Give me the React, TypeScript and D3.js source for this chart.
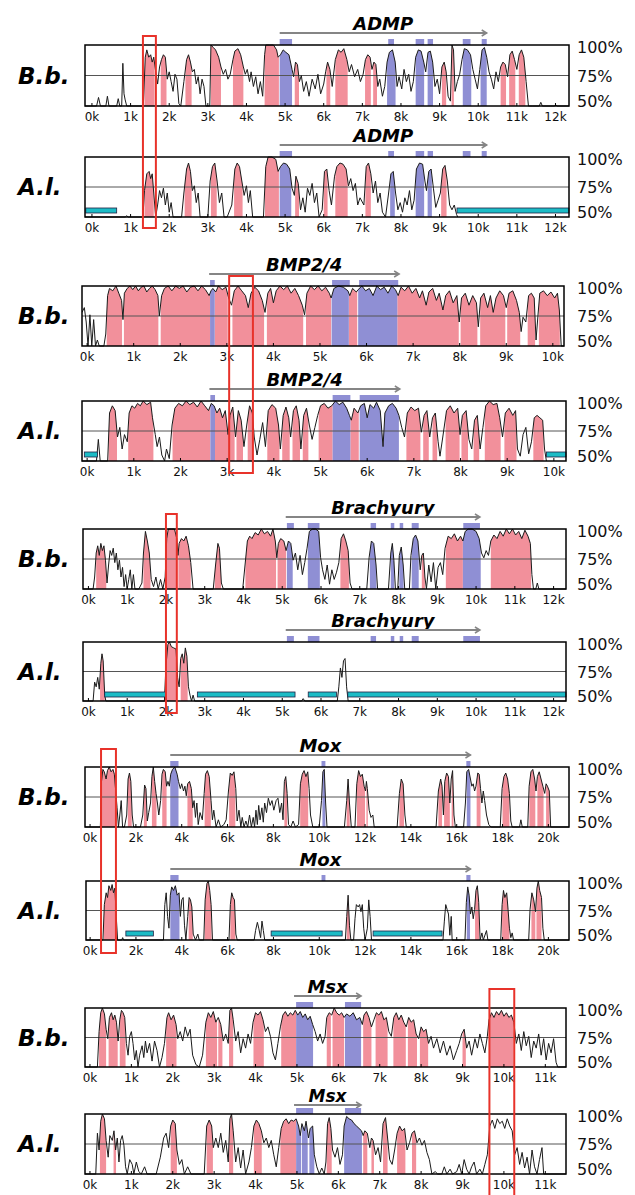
import React from 'react';
import * as d3 from 'd3';

type Pt = [number, number];
type Span = [number, number];

// ---------- ADMP ----------
const admpBbCurve: Pt[] = [[-0.18,45],[0.12,45],[0.17,57],[0.22,45],[0.36,45],[0.4,58],[0.44,45],[0.64,45],[0.68,56],[0.72,45],[0.77,48],[0.8,85],[0.83,60],[0.86,55],[0.9,45],[1.33,45],[1.38,90],[1.42,96],[1.47,90],[1.52,92],[1.56,86],[1.6,90],[1.65,78],[1.7,68],[1.75,82],[1.8,88],[1.85,92],[1.9,90],[1.95,72],[2.0,78],[2.05,70],[2.1,62],[2.15,76],[2.2,72],[2.25,52],[2.3,48],[2.38,70],[2.45,88],[2.5,92],[2.55,86],[2.6,78],[2.65,80],[2.7,68],[2.75,74],[2.8,60],[2.85,72],[2.9,66],[2.95,50],[3.05,48],[3.08,100],[3.14,98],[3.2,96],[3.28,90],[3.34,82],[3.4,76],[3.46,80],[3.52,72],[3.58,76],[3.65,88],[3.7,95],[3.78,97],[3.85,92],[3.92,82],[3.97,76],[4.02,80],[4.08,70],[4.12,78],[4.18,66],[4.24,74],[4.3,60],[4.36,70],[4.42,58],[4.47,92],[4.5,100],[4.6,100],[4.7,100],[4.78,96],[4.82,90],[4.88,92],[4.95,96],[5.02,94],[5.1,92],[5.18,80],[5.22,74],[5.27,86],[5.32,84],[5.37,70],[5.42,75],[5.48,62],[5.55,70],[5.62,58],[5.7,72],[5.78,64],[5.85,76],[5.92,60],[6.0,68],[6.05,78],[6.1,86],[6.16,80],[6.22,66],[6.3,88],[6.38,96],[6.45,94],[6.52,97],[6.6,88],[6.66,78],[6.72,84],[6.8,74],[6.88,80],[6.95,70],[7.02,76],[7.08,88],[7.14,92],[7.2,90],[7.25,80],[7.3,86],[7.35,84],[7.4,66],[7.45,72],[7.52,58],[7.58,66],[7.64,86],[7.7,94],[7.78,96],[7.85,86],[7.9,66],[7.95,74],[8.02,64],[8.08,80],[8.14,70],[8.2,76],[8.26,62],[8.32,70],[8.38,90],[8.45,96],[8.52,95],[8.59,86],[8.64,78],[8.7,94],[8.76,95],[8.82,86],[8.88,66],[8.94,72],[9.0,60],[9.06,82],[9.12,86],[9.17,78],[9.22,58],[9.28,54],[9.32,100],[9.36,96],[9.4,62],[9.46,70],[9.52,76],[9.58,88],[9.64,97],[9.72,96],[9.8,92],[9.86,80],[9.92,72],[9.98,64],[10.04,80],[10.1,96],[10.16,98],[10.22,90],[10.28,78],[10.34,72],[10.4,64],[10.46,78],[10.52,70],[10.58,82],[10.64,86],[10.7,84],[10.76,74],[10.82,92],[10.88,95],[10.94,88],[11.0,80],[11.06,92],[11.12,96],[11.18,90],[11.24,70],[11.3,48],[11.4,45],[11.58,45],[11.62,53],[11.66,45],[11.98,45],[12.0,51],[12.04,45],[12.35,45]];
const admpBbCns: Span[] = [[1.36,1.62],[1.78,1.93],[2.42,2.58],[3.08,3.34],[3.65,3.92],[4.47,4.84],[5.25,5.36],[6.07,6.17],[6.3,6.62],[7.07,7.22],[7.28,7.38],[9.06,9.17],[9.31,9.37],[10.58,10.72],[10.8,10.96],[11.05,11.22]];
const admpBbExonFill: Span[] = [[4.86,5.18],[7.64,7.86],[8.38,8.6],[8.69,8.83],[9.6,9.82],[10.06,10.22]];

const admpAlCurve: Pt[] = [[-0.18,45],[0.86,45],[0.9,51],[0.94,45],[1.32,45],[1.36,72],[1.42,86],[1.48,88],[1.52,82],[1.56,86],[1.6,70],[1.65,48],[1.7,60],[1.75,72],[1.8,66],[1.85,74],[1.9,60],[1.95,70],[2.0,54],[2.05,62],[2.1,48],[2.2,46],[2.32,48],[2.38,70],[2.45,90],[2.5,95],[2.55,88],[2.6,72],[2.65,76],[2.7,62],[2.75,70],[2.8,50],[2.9,48],[3.0,48],[3.06,80],[3.12,92],[3.18,95],[3.24,80],[3.3,62],[3.36,70],[3.42,50],[3.5,48],[3.62,60],[3.7,90],[3.76,95],[3.82,92],[3.88,80],[3.94,68],[4.0,76],[4.05,62],[4.1,72],[4.16,50],[4.3,46],[4.44,48],[4.5,92],[4.56,100],[4.66,100],[4.76,98],[4.82,88],[4.88,92],[4.96,95],[5.04,94],[5.12,90],[5.18,74],[5.24,68],[5.28,84],[5.34,78],[5.4,56],[5.46,66],[5.52,54],[5.58,74],[5.64,68],[5.7,78],[5.76,62],[5.82,70],[5.88,48],[5.96,56],[6.02,88],[6.08,90],[6.14,72],[6.2,60],[6.28,84],[6.34,92],[6.42,95],[6.5,94],[6.58,90],[6.64,76],[6.7,82],[6.76,72],[6.82,78],[6.88,60],[6.94,66],[7.04,60],[7.1,92],[7.16,95],[7.22,86],[7.28,70],[7.34,80],[7.4,62],[7.46,70],[7.52,54],[7.6,50],[7.68,70],[7.74,86],[7.8,88],[7.86,70],[7.92,56],[7.98,62],[8.04,54],[8.1,66],[8.16,60],[8.22,72],[8.28,56],[8.34,64],[8.4,90],[8.48,95],[8.56,94],[8.62,80],[8.66,72],[8.72,88],[8.78,90],[8.84,74],[8.9,58],[8.96,64],[9.02,70],[9.08,90],[9.14,93],[9.2,80],[9.26,60],[9.32,56],[9.38,60],[9.44,52],[9.47,45]];
const admpAlCns: Span[] = [[1.36,1.6],[2.4,2.58],[3.08,3.23],[3.68,3.9],[4.48,4.84],[5.26,5.36],[6.0,6.1],[6.3,6.62],[7.08,7.22],[9.04,9.18]];
const admpAlExonFill: Span[] = [[4.86,5.16],[7.72,7.84],[8.38,8.6],[8.69,8.8]];
const admpAlGaps: Span[] = [[-0.16,0.64],[9.45,12.35]];
const admpExonMarks: Span[] = [[4.86,5.18],[7.67,7.82],[8.38,8.6],[8.69,8.83],[9.6,9.8],[10.09,10.22]];
const admpArrow: Span = [4.86, 10.22];

// ---------- BMP2/4 ----------
const bmpBbCurve: Pt[] = [[-0.11,78],[-0.06,82],[-0.02,70],[0.02,50],[0.06,76],[0.1,45],[0.14,72],[0.18,45],[0.22,55],[0.26,45],[0.32,48],[0.36,45],[0.4,60],[0.44,92],[0.48,98],[0.55,96],[0.62,100],[0.68,94],[0.74,88],[0.77,72],[0.8,94],[0.86,98],[0.92,100],[0.98,97],[1.04,100],[1.1,96],[1.16,99],[1.22,100],[1.28,95],[1.34,98],[1.4,100],[1.46,97],[1.52,92],[1.55,75],[1.6,92],[1.66,98],[1.74,100],[1.82,96],[1.9,100],[1.98,98],[2.06,100],[2.14,95],[2.22,99],[2.3,100],[2.38,96],[2.46,100],[2.54,97],[2.62,92],[2.66,96],[2.7,98],[2.76,95],[2.82,100],[2.9,97],[2.98,99],[3.04,90],[3.1,84],[3.16,96],[3.24,100],[3.32,96],[3.4,92],[3.46,82],[3.52,94],[3.6,99],[3.68,96],[3.76,88],[3.82,78],[3.88,94],[3.94,98],[4.0,86],[4.06,96],[4.14,100],[4.22,97],[4.3,100],[4.38,94],[4.46,98],[4.54,92],[4.62,84],[4.67,76],[4.72,94],[4.8,100],[4.88,97],[4.96,100],[5.04,96],[5.12,99],[5.2,94],[5.24,90],[5.3,98],[5.4,100],[5.5,99],[5.6,96],[5.64,92],[5.7,98],[5.78,95],[5.82,97],[5.9,100],[5.98,96],[6.06,98],[6.14,92],[6.22,100],[6.3,97],[6.38,99],[6.46,94],[6.54,100],[6.62,97],[6.68,92],[6.74,99],[6.82,96],[6.9,100],[6.98,94],[7.06,98],[7.14,90],[7.2,96],[7.28,84],[7.34,95],[7.42,98],[7.5,88],[7.56,94],[7.64,80],[7.7,92],[7.78,96],[7.86,86],[7.94,92],[7.99,70],[8.04,90],[8.12,94],[8.2,84],[8.28,92],[8.36,86],[8.4,66],[8.45,90],[8.52,94],[8.6,82],[8.66,92],[8.72,78],[8.78,90],[8.86,96],[8.94,92],[9.0,82],[9.06,94],[9.14,96],[9.22,88],[9.28,78],[9.32,62],[9.36,74],[9.42,70],[9.48,92],[9.54,94],[9.6,90],[9.64,55],[9.68,75],[9.72,94],[9.8,96],[9.88,92],[9.96,95],[10.04,90],[10.1,94],[10.14,80],[10.18,50],[10.24,48]];
const bmpBbCns: Span[] = [[0.42,0.75],[0.79,1.53],[1.58,2.64],[2.74,3.02],[3.12,3.8],[3.86,4.64],[4.7,5.24],[5.62,5.8],[6.66,7.98],[8.02,8.38],[8.44,8.98],[9.02,9.3],[9.46,9.62],[9.7,10.15]];
const bmpBbExonFill: Span[] = [[2.64,2.74],[5.25,5.62],[5.82,6.66]];

const bmpAlCurve: Pt[] = [[-0.11,45],[0.2,45],[0.24,68],[0.28,50],[0.32,45],[0.44,48],[0.48,90],[0.54,96],[0.6,92],[0.65,70],[0.7,78],[0.75,60],[0.8,72],[0.86,66],[0.9,90],[0.96,96],[1.02,94],[1.08,98],[1.14,96],[1.2,100],[1.28,97],[1.36,99],[1.4,86],[1.46,72],[1.5,62],[1.55,70],[1.6,55],[1.66,48],[1.7,60],[1.76,52],[1.82,80],[1.88,94],[1.96,98],[2.04,96],[2.12,100],[2.2,97],[2.28,99],[2.36,95],[2.44,100],[2.52,96],[2.6,92],[2.66,98],[2.72,96],[2.78,90],[2.84,94],[2.9,86],[2.96,92],[3.02,72],[3.06,88],[3.12,95],[3.18,70],[3.24,92],[3.3,84],[3.36,62],[3.42,80],[3.48,96],[3.54,90],[3.58,70],[3.64,55],[3.7,68],[3.76,82],[3.82,62],[3.88,92],[3.96,97],[4.04,94],[4.1,80],[4.14,60],[4.2,88],[4.26,95],[4.32,86],[4.36,70],[4.42,92],[4.48,96],[4.54,84],[4.58,60],[4.64,88],[4.7,94],[4.76,80],[4.82,68],[4.88,78],[4.94,88],[5.0,96],[5.08,98],[5.16,94],[5.24,96],[5.32,100],[5.4,97],[5.48,99],[5.56,94],[5.62,88],[5.66,84],[5.72,94],[5.8,90],[5.86,96],[5.94,98],[6.0,86],[6.06,97],[6.14,94],[6.2,99],[6.28,92],[6.34,62],[6.38,90],[6.46,96],[6.54,98],[6.62,94],[6.68,88],[6.74,78],[6.8,70],[6.86,90],[6.94,95],[7.02,92],[7.1,94],[7.16,74],[7.22,88],[7.28,92],[7.34,70],[7.4,86],[7.46,90],[7.52,66],[7.56,54],[7.62,70],[7.7,92],[7.78,96],[7.86,90],[7.94,94],[7.99,72],[8.04,88],[8.12,92],[8.18,68],[8.24,60],[8.3,84],[8.36,88],[8.42,60],[8.48,78],[8.54,96],[8.62,100],[8.7,97],[8.78,98],[8.84,86],[8.9,70],[8.96,90],[9.04,94],[9.12,88],[9.18,92],[9.22,60],[9.28,54],[9.34,72],[9.4,78],[9.46,56],[9.52,66],[9.58,86],[9.64,88],[9.7,86],[9.76,84],[9.8,60],[9.84,45]];
const bmpAlCns: Span[] = [[0.46,0.64],[0.88,1.42],[1.83,2.64],[2.74,3.04],[3.06,3.16],[3.2,3.34],[3.44,3.56],[3.86,4.12],[4.18,4.34],[4.4,4.56],[4.62,4.74],[4.96,5.26],[5.64,5.82],[6.84,7.14],[7.2,7.32],[7.4,7.5],[7.68,7.98],[8.02,8.16],[8.28,8.4],[8.52,8.86],[8.94,9.2],[9.56,9.78]];
const bmpAlExonFill: Span[] = [[2.64,2.74],[5.26,5.64],[5.84,6.68]];
const bmpAlGaps: Span[] = [[-0.06,0.22],[9.84,10.26]];
const bmpExonMarks: Span[] = [[2.64,2.74],[5.26,5.64],[5.84,6.68]];
const bmpArrow: Span = [2.62, 6.7];

// ---------- Brachyury ----------
const brachyBbCurve: Pt[] = [[-0.14,45],[0.12,45],[0.16,60],[0.2,80],[0.24,86],[0.28,78],[0.32,88],[0.36,82],[0.4,86],[0.44,74],[0.48,55],[0.52,70],[0.56,82],[0.6,78],[0.64,84],[0.68,72],[0.72,80],[0.76,66],[0.8,74],[0.84,60],[0.88,68],[0.92,52],[0.96,62],[1.0,48],[1.04,58],[1.08,66],[1.12,50],[1.16,62],[1.2,46],[1.3,45],[1.38,55],[1.42,80],[1.47,98],[1.52,90],[1.57,80],[1.62,58],[1.68,52],[1.74,60],[1.8,50],[1.86,58],[1.92,48],[1.98,60],[2.02,92],[2.06,100],[2.14,100],[2.22,100],[2.28,92],[2.31,78],[2.34,88],[2.4,92],[2.46,90],[2.52,94],[2.58,86],[2.64,72],[2.7,50],[2.78,45],[3.22,45],[3.28,70],[3.34,88],[3.38,84],[3.43,55],[3.48,45],[3.98,45],[4.04,70],[4.1,90],[4.16,94],[4.22,92],[4.3,97],[4.38,95],[4.46,100],[4.54,96],[4.62,98],[4.7,94],[4.76,100],[4.82,90],[4.86,76],[4.9,88],[4.96,92],[5.04,90],[5.1,82],[5.16,90],[5.22,88],[5.28,74],[5.34,80],[5.4,66],[5.46,78],[5.52,62],[5.58,72],[5.64,84],[5.7,98],[5.78,100],[5.86,100],[5.94,98],[5.99,76],[6.04,66],[6.1,58],[6.16,70],[6.22,54],[6.28,66],[6.34,58],[6.4,64],[6.46,72],[6.52,92],[6.58,96],[6.64,90],[6.7,82],[6.75,55],[6.8,45],[7.18,45],[7.24,76],[7.3,90],[7.36,88],[7.42,70],[7.46,45],[7.74,45],[7.8,80],[7.84,88],[7.88,74],[7.92,45],[7.98,50],[8.02,78],[8.07,85],[8.12,70],[8.16,48],[8.28,50],[8.32,78],[8.38,92],[8.44,95],[8.5,90],[8.56,66],[8.6,78],[8.64,80],[8.68,60],[8.72,50],[8.78,70],[8.84,56],[8.9,72],[8.96,50],[9.02,68],[9.08,72],[9.14,62],[9.2,84],[9.28,94],[9.36,92],[9.44,96],[9.52,90],[9.6,94],[9.66,90],[9.72,98],[9.8,100],[9.9,100],[10.0,98],[10.08,92],[10.14,80],[10.2,76],[10.26,82],[10.32,78],[10.38,90],[10.46,95],[10.54,92],[10.62,98],[10.7,94],[10.78,100],[10.86,96],[10.94,100],[11.02,95],[11.1,98],[11.18,92],[11.26,99],[11.34,94],[11.4,88],[11.44,62],[11.48,48],[11.54,45],[11.58,55],[11.62,45],[12.32,45]];
const brachyBbCns: Span[] = [[0.2,0.46],[1.42,1.6],[2.0,2.29],[2.32,2.64],[3.26,3.42],[4.05,4.84],[4.88,5.1],[6.5,6.72],[8.6,8.68],[9.22,9.66],[10.38,11.42]];
const brachyBbExonFill: Span[] = [[5.12,5.27],[5.66,5.97],[7.26,7.43],[7.8,7.89],[8.02,8.13],[8.34,8.52],[9.66,10.12]];

const brachyAlCurve: Pt[] = [[-0.14,45],[0.12,45],[0.16,66],[0.2,62],[0.24,70],[0.28,60],[0.32,82],[0.35,90],[0.38,84],[0.42,55],[0.45,45],[1.96,45],[2.0,80],[2.05,98],[2.09,100],[2.14,96],[2.2,95],[2.26,94],[2.3,70],[2.34,62],[2.38,86],[2.42,90],[2.46,82],[2.5,95],[2.54,88],[2.58,62],[2.62,55],[2.66,48],[2.7,55],[2.74,45],[5.5,45],[5.54,52],[5.58,45],[6.42,45],[6.46,62],[6.5,78],[6.54,70],[6.58,84],[6.62,86],[6.66,62],[6.7,45],[12.32,45]];
const brachyAlCns: Span[] = [[0.3,0.42],[2.0,2.29],[2.38,2.56]];
const brachyAlExonFill: Span[] = [];
const brachyAlGaps: Span[] = [[0.42,1.99],[2.81,5.33],[5.67,6.4],[6.69,12.32]];
const brachyExonMarks: Span[] = [[5.12,5.3],[5.66,5.96],[7.28,7.42],[7.8,7.89],[8.03,8.12],[8.34,8.52],[9.67,10.1]];
const brachyArrow: Span = [5.09, 10.1];

// ---------- Mox ----------
const moxBbCurve: Pt[] = [[-0.22,45],[0.45,45],[0.5,88],[0.56,98],[0.62,96],[0.7,90],[0.76,97],[0.84,100],[0.92,96],[1.0,98],[1.06,94],[1.12,80],[1.18,66],[1.24,50],[1.3,60],[1.36,72],[1.42,48],[1.5,45],[1.6,60],[1.66,90],[1.72,95],[1.78,88],[1.84,60],[1.9,48],[2.2,45],[2.3,60],[2.38,85],[2.44,82],[2.5,55],[2.56,62],[2.64,70],[2.7,92],[2.76,100],[2.82,88],[2.88,78],[2.94,70],[3.0,60],[3.08,72],[3.14,94],[3.2,98],[3.28,96],[3.34,84],[3.4,88],[3.46,84],[3.52,94],[3.6,98],[3.7,100],[3.8,94],[3.86,88],[3.94,82],[4.0,86],[4.08,80],[4.14,84],[4.2,76],[4.26,86],[4.34,88],[4.42,82],[4.48,66],[4.54,72],[4.6,58],[4.66,70],[4.72,52],[4.8,62],[4.9,56],[4.98,78],[5.04,94],[5.12,97],[5.2,92],[5.28,72],[5.34,56],[5.4,64],[5.5,50],[5.6,56],[5.7,48],[5.84,52],[5.94,56],[6.04,80],[6.12,95],[6.2,93],[6.28,96],[6.36,82],[6.42,55],[6.5,64],[6.58,48],[6.64,58],[6.72,46],[6.8,55],[6.88,48],[6.96,60],[7.04,46],[7.12,58],[7.18,50],[7.24,64],[7.3,52],[7.36,68],[7.42,56],[7.5,66],[7.56,54],[7.62,70],[7.7,62],[7.78,74],[7.86,68],[7.94,72],[8.02,64],[8.12,72],[8.2,74],[8.28,62],[8.36,70],[8.42,56],[8.48,88],[8.54,92],[8.6,78],[8.66,52],[8.76,48],[8.86,55],[8.96,48],[9.1,52],[9.18,86],[9.26,94],[9.34,97],[9.42,92],[9.5,96],[9.56,82],[9.62,60],[9.72,48],[10.0,45],[10.1,72],[10.16,96],[10.22,98],[10.28,70],[10.34,45],[11.1,45],[11.2,72],[11.26,90],[11.32,70],[11.4,48],[11.56,50],[11.64,86],[11.72,97],[11.8,92],[11.88,94],[11.96,84],[12.02,80],[12.06,88],[12.1,82],[12.18,64],[12.26,58],[12.34,60],[12.4,48],[12.5,45],[13.4,45],[13.5,78],[13.58,90],[13.66,86],[13.74,60],[13.8,45],[15.1,45],[15.2,80],[15.3,90],[15.36,84],[15.42,60],[15.48,88],[15.56,95],[15.64,92],[15.7,70],[15.76,90],[15.82,97],[15.88,60],[15.94,45],[16.3,45],[16.38,70],[16.44,96],[16.52,98],[16.6,90],[16.66,84],[16.72,86],[16.78,80],[16.84,84],[16.92,95],[16.98,94],[17.04,82],[17.1,70],[17.16,80],[17.22,72],[17.3,60],[17.4,52],[17.5,45],[17.9,45],[17.98,82],[18.06,92],[18.14,95],[18.22,90],[18.3,78],[18.36,55],[18.42,45],[18.74,45],[18.8,56],[18.86,45],[19.1,45],[19.16,84],[19.24,96],[19.32,98],[19.4,90],[19.46,80],[19.52,92],[19.6,96],[19.68,90],[19.76,84],[19.84,78],[19.9,86],[19.96,84],[20.04,80],[20.1,48],[20.2,45],[20.9,45]];
const moxBbCns: Span[] = [[0.5,1.12],[1.65,1.82],[2.35,2.48],[2.7,2.9],[3.15,3.34],[4.25,4.48],[5.0,5.27],[6.07,6.34],[8.48,8.6],[9.17,9.52],[11.2,11.33],[11.65,12.0],[12.06,12.12],[13.5,13.7],[15.2,15.36],[15.45,15.7],[15.78,15.86],[16.87,17.04],[18.0,18.3],[19.17,19.43],[19.52,19.79],[19.9,20.05]];
const moxBbExonFill: Span[] = [[3.5,3.86],[10.14,10.27],[16.44,16.6]];

const moxAlCurve: Pt[] = [[-0.22,45],[0.56,45],[0.62,80],[0.7,90],[0.76,86],[0.82,96],[0.9,92],[0.96,97],[1.02,90],[1.08,94],[1.14,70],[1.2,48],[1.3,45],[1.38,45],[1.42,52],[1.46,45],[3.2,45],[3.26,80],[3.32,90],[3.38,70],[3.44,60],[3.5,88],[3.56,95],[3.64,92],[3.72,96],[3.8,88],[3.88,90],[3.94,70],[4.0,84],[4.06,86],[4.12,62],[4.18,48],[4.26,70],[4.32,86],[4.38,84],[4.44,78],[4.5,55],[4.6,48],[4.7,55],[4.76,45],[4.96,48],[5.02,84],[5.1,98],[5.16,100],[5.22,92],[5.28,80],[5.34,48],[5.4,45],[6.06,45],[6.12,80],[6.18,90],[6.24,86],[6.3,84],[6.36,55],[6.42,45],[7.16,45],[7.22,58],[7.3,65],[7.36,60],[7.44,52],[7.5,66],[7.56,58],[7.62,45],[11.14,45],[11.2,70],[11.26,88],[11.32,62],[11.38,45],[11.5,45],[11.56,68],[11.62,80],[11.7,78],[11.76,80],[11.82,74],[11.88,80],[11.94,60],[12.0,48],[12.1,60],[12.16,84],[12.22,70],[12.28,45],[15.4,45],[15.46,66],[15.52,80],[15.58,76],[15.64,72],[15.7,54],[15.76,70],[15.8,48],[15.9,45],[16.36,45],[16.42,82],[16.48,95],[16.54,88],[16.6,72],[16.66,78],[16.72,68],[16.78,76],[16.84,92],[16.9,96],[16.96,82],[17.02,50],[17.1,56],[17.16,48],[17.3,58],[17.36,45],[17.92,45],[17.98,80],[18.04,92],[18.1,86],[18.18,90],[18.24,76],[18.3,60],[18.36,52],[18.42,56],[18.48,45],[19.14,45],[19.2,76],[19.28,90],[19.36,84],[19.44,74],[19.5,94],[19.56,100],[19.62,92],[19.7,86],[19.76,60],[19.82,45],[20.9,45]];
const moxAlCns: Span[] = [[0.6,1.12],[4.3,4.48],[5.0,5.3],[6.12,6.34],[11.2,11.33],[16.8,16.98],[17.98,18.3],[19.26,19.43],[19.48,19.7]];
const moxAlExonFill: Span[] = [[3.5,3.9],[16.44,16.58]];
const moxAlGaps: Span[] = [[1.56,2.76],[7.9,11.0],[12.35,15.36]];
const moxExonMarks: Span[] = [[3.5,3.86],[10.1,10.27],[16.42,16.6]];
const moxArrow: Span = [3.5, 16.6];

// ---------- Msx ----------
const msxBbCurve: Pt[] = [[-0.12,45],[0.18,45],[0.22,80],[0.26,96],[0.3,100],[0.35,95],[0.39,82],[0.43,74],[0.47,92],[0.52,96],[0.56,90],[0.6,94],[0.64,88],[0.68,72],[0.72,90],[0.76,98],[0.8,96],[0.84,92],[0.88,70],[0.92,60],[0.96,76],[1.0,80],[1.04,70],[1.08,56],[1.12,64],[1.16,48],[1.2,60],[1.26,68],[1.3,58],[1.34,72],[1.38,62],[1.44,70],[1.5,55],[1.56,72],[1.62,64],[1.68,50],[1.74,58],[1.8,70],[1.86,92],[1.9,96],[1.96,90],[2.02,94],[2.08,86],[2.12,74],[2.18,80],[2.24,72],[2.3,84],[2.36,76],[2.42,82],[2.48,60],[2.56,52],[2.64,48],[2.72,60],[2.8,88],[2.86,96],[2.92,92],[2.98,97],[3.04,88],[3.1,92],[3.16,86],[3.22,72],[3.28,78],[3.34,70],[3.38,98],[3.42,100],[3.46,90],[3.52,72],[3.58,80],[3.64,62],[3.7,74],[3.76,66],[3.82,78],[3.88,70],[3.94,88],[4.0,96],[4.06,94],[4.12,97],[4.18,90],[4.24,80],[4.3,84],[4.36,76],[4.42,62],[4.48,56],[4.54,70],[4.6,84],[4.66,94],[4.72,97],[4.78,93],[4.84,96],[4.9,94],[4.96,98],[5.02,94],[5.08,97],[5.14,92],[5.2,95],[5.26,90],[5.32,93],[5.38,86],[5.44,80],[5.5,72],[5.56,78],[5.62,70],[5.68,76],[5.72,92],[5.78,96],[5.84,94],[5.9,100],[5.96,96],[6.02,94],[6.08,96],[6.14,92],[6.2,95],[6.28,93],[6.36,96],[6.44,90],[6.52,92],[6.58,86],[6.62,94],[6.68,97],[6.74,92],[6.8,84],[6.86,90],[6.92,96],[6.98,94],[7.04,97],[7.1,90],[7.16,92],[7.22,80],[7.28,76],[7.34,92],[7.4,96],[7.46,90],[7.52,94],[7.58,88],[7.64,84],[7.7,92],[7.76,88],[7.82,90],[7.88,78],[7.94,74],[8.0,84],[8.06,80],[8.12,82],[8.18,70],[8.24,76],[8.3,66],[8.38,74],[8.46,62],[8.54,72],[8.62,60],[8.7,68],[8.78,56],[8.86,64],[8.92,70],[8.98,78],[9.04,82],[9.1,66],[9.16,72],[9.22,60],[9.3,74],[9.36,66],[9.42,78],[9.48,70],[9.54,62],[9.6,76],[9.64,90],[9.7,96],[9.76,92],[9.82,97],[9.88,94],[9.94,98],[10.0,93],[10.06,96],[10.12,92],[10.18,94],[10.24,88],[10.3,70],[10.36,78],[10.42,64],[10.48,80],[10.54,68],[10.6,76],[10.66,58],[10.72,72],[10.78,66],[10.84,78],[10.9,60],[10.96,74],[11.02,56],[11.08,70],[11.14,62],[11.2,74],[11.26,54],[11.3,45],[11.5,45]];
const msxBbCns: Span[] = [[0.22,0.39],[0.45,0.67],[0.72,0.86],[1.84,2.09],[2.8,3.07],[3.1,3.2],[3.36,3.46],[3.95,4.2],[4.62,4.98],[5.72,5.82],[5.86,6.14],[6.6,6.8],[6.9,7.19],[7.33,7.63],[7.68,7.9],[7.97,8.17],[9.0,9.08],[9.64,10.23]];
const msxBbExonFill: Span[] = [[4.98,5.39],[6.16,6.55]];

const msxAlCurve: Pt[] = [[-0.12,45],[0.14,45],[0.18,84],[0.22,70],[0.26,94],[0.3,100],[0.35,96],[0.39,78],[0.44,64],[0.48,82],[0.54,78],[0.58,86],[0.62,70],[0.66,80],[0.7,60],[0.74,78],[0.78,82],[0.82,74],[0.86,56],[0.9,48],[0.96,62],[1.02,58],[1.06,45],[1.12,60],[1.18,52],[1.24,45],[1.32,56],[1.38,45],[1.6,45],[1.7,64],[1.78,80],[1.84,84],[1.9,72],[1.95,90],[2.0,95],[2.06,92],[2.1,70],[2.16,58],[2.22,62],[2.28,50],[2.36,56],[2.44,45],[2.76,48],[2.82,90],[2.88,95],[2.94,90],[2.98,72],[3.04,80],[3.1,72],[3.16,84],[3.22,68],[3.28,78],[3.34,60],[3.38,96],[3.42,100],[3.46,86],[3.52,60],[3.58,72],[3.64,55],[3.7,70],[3.76,48],[3.84,60],[3.9,72],[3.96,90],[4.02,95],[4.08,92],[4.14,86],[4.2,76],[4.26,80],[4.32,72],[4.38,78],[4.44,66],[4.5,56],[4.56,72],[4.62,88],[4.68,94],[4.74,96],[4.8,92],[4.86,95],[4.92,94],[4.98,96],[5.04,90],[5.08,82],[5.12,92],[5.18,86],[5.22,94],[5.28,80],[5.32,88],[5.38,90],[5.42,66],[5.48,56],[5.54,48],[5.6,55],[5.66,45],[5.7,60],[5.74,92],[5.78,97],[5.82,88],[5.86,70],[5.92,64],[5.98,72],[6.04,58],[6.1,66],[6.14,90],[6.2,98],[6.26,96],[6.32,95],[6.38,92],[6.44,90],[6.5,88],[6.56,86],[6.6,82],[6.64,86],[6.7,84],[6.76,72],[6.8,80],[6.84,78],[6.9,66],[6.96,72],[7.02,60],[7.08,92],[7.14,97],[7.19,80],[7.24,62],[7.3,58],[7.36,70],[7.42,84],[7.48,90],[7.54,86],[7.6,88],[7.66,70],[7.72,76],[7.78,84],[7.84,86],[7.9,76],[7.96,80],[8.02,74],[8.08,78],[8.14,68],[8.2,62],[8.26,48],[8.34,52],[8.4,45],[8.5,50],[8.56,56],[8.62,48],[8.7,54],[8.76,45],[8.86,52],[8.92,58],[8.98,50],[9.04,62],[9.1,54],[9.16,48],[9.22,56],[9.28,60],[9.34,50],[9.42,54],[9.48,48],[9.54,58],[9.6,66],[9.66,90],[9.72,95],[9.78,88],[9.84,96],[9.9,92],[9.96,94],[10.02,88],[10.08,96],[10.14,90],[10.2,86],[10.26,66],[10.32,72],[10.38,58],[10.44,68],[10.5,55],[10.56,64],[10.62,50],[10.68,70],[10.74,56],[10.8,48],[10.86,62],[10.92,72],[10.96,45],[11.5,45]];
const msxAlCns: Span[] = [[0.24,0.39],[0.57,0.63],[1.95,2.1],[2.82,2.97],[3.36,3.46],[3.96,4.15],[4.6,4.98],[5.72,5.84],[6.6,6.7],[6.8,6.86],[7.08,7.19],[7.42,7.62],[7.78,7.88]];
const msxAlExonFill: Span[] = [[4.98,5.1],[5.12,5.26],[5.3,5.42],[6.14,6.57]];
const msxExonMarks: Span[] = [[4.98,5.39],[6.16,6.55]];
const msxArrow: Span = [4.93, 6.55];

// ---------- axes ----------
const pctLabels = ['100%', '75%', '50%'];
const pctValues = [100, 75, 50];
const ticks12 = d3.range(0, 13, 1);
const ticks10 = d3.range(0, 11, 1);
const ticks20 = d3.range(0, 21, 2);
const ticks11 = d3.range(0, 12, 1);

interface PanelData {
  species: string; gene: string; curve: Pt[]; cns: Span[]; exonFill: Span[]; gaps: Span[];
  marks: Span[]; arrow: Span; ticks: number[]; domain: Span;
}

const panels: PanelData[] = [
  { species: 'B.b.', gene: 'ADMP', curve: admpBbCurve, cns: admpBbCns, exonFill: admpBbExonFill, gaps: [], marks: admpExonMarks, arrow: admpArrow, ticks: ticks12, domain: [-0.18, 12.35] },
  { species: 'A.l.', gene: 'ADMP', curve: admpAlCurve, cns: admpAlCns, exonFill: admpAlExonFill, gaps: admpAlGaps, marks: admpExonMarks, arrow: admpArrow, ticks: ticks12, domain: [-0.18, 12.35] },
  { species: 'B.b.', gene: 'BMP2/4', curve: bmpBbCurve, cns: bmpBbCns, exonFill: bmpBbExonFill, gaps: [], marks: bmpExonMarks, arrow: bmpArrow, ticks: ticks10, domain: [-0.11, 10.24] },
  { species: 'A.l.', gene: 'BMP2/4', curve: bmpAlCurve, cns: bmpAlCns, exonFill: bmpAlExonFill, gaps: bmpAlGaps, marks: bmpExonMarks, arrow: bmpArrow, ticks: ticks10, domain: [-0.11, 10.26] },
  { species: 'B.b.', gene: 'Brachyury', curve: brachyBbCurve, cns: brachyBbCns, exonFill: brachyBbExonFill, gaps: [], marks: brachyExonMarks, arrow: brachyArrow, ticks: ticks12, domain: [-0.14, 12.32] },
  { species: 'A.l.', gene: 'Brachyury', curve: brachyAlCurve, cns: brachyAlCns, exonFill: brachyAlExonFill, gaps: brachyAlGaps, marks: brachyExonMarks, arrow: brachyArrow, ticks: ticks12, domain: [-0.14, 12.32] },
  { species: 'B.b.', gene: 'Mox', curve: moxBbCurve, cns: moxBbCns, exonFill: moxBbExonFill, gaps: [], marks: moxExonMarks, arrow: moxArrow, ticks: ticks20, domain: [-0.22, 20.9] },
  { species: 'A.l.', gene: 'Mox', curve: moxAlCurve, cns: moxAlCns, exonFill: moxAlExonFill, gaps: moxAlGaps, marks: moxExonMarks, arrow: moxArrow, ticks: ticks20, domain: [-0.18, 20.9] },
  { species: 'B.b.', gene: 'Msx', curve: msxBbCurve, cns: msxBbCns, exonFill: msxBbExonFill, gaps: [], marks: msxExonMarks, arrow: msxArrow, ticks: ticks11, domain: [-0.12, 11.5] },
  { species: 'A.l.', gene: 'Msx', curve: msxAlCurve, cns: msxAlCns, exonFill: msxAlExonFill, gaps: [], marks: msxExonMarks, arrow: msxArrow, ticks: ticks11, domain: [-0.12, 11.5] },
];

// highlighted columns: panel index, start kb, end kb
const highlights: { panel: number; span: Span }[] = [
  { panel: 0, span: [1.32, 1.655] },
  { panel: 2, span: [3.05, 3.56] },
  { panel: 4, span: [2.0, 2.28] },
  { panel: 6, span: [0.48, 1.13] },
  { panel: 8, span: [9.65, 10.25] },
];

// ---------- layout (pixels) ----------
const layout = [
  { top: 45, bottom: 106, left: 85, right: 569, nameDy: 15, arrowDy: 12, nameSize: 18 },
  { top: 157, bottom: 217, left: 85, right: 569, nameDy: 15, arrowDy: 12, nameSize: 18 },
  { top: 286, bottom: 346, left: 82, right: 564, nameDy: 15, arrowDy: 12, nameSize: 18 },
  { top: 401, bottom: 461, left: 82, right: 566, nameDy: 15, arrowDy: 12, nameSize: 18 },
  { top: 529, bottom: 589, left: 83, right: 566, nameDy: 15, arrowDy: 12, nameSize: 18 },
  { top: 642, bottom: 701, left: 83, right: 566, nameDy: 15, arrowDy: 12, nameSize: 18 },
  { top: 767, bottom: 827, left: 85, right: 569, nameDy: 15, arrowDy: 12, nameSize: 18 },
  { top: 881, bottom: 940, left: 86, right: 569, nameDy: 15, arrowDy: 12, nameSize: 18 },
  { top: 1008, bottom: 1067, left: 85, right: 566, nameDy: 15, arrowDy: 12, nameSize: 18 },
  { top: 1114, bottom: 1174, left: 85, right: 566, nameDy: 12, arrowDy: 9, nameSize: 17 },
];
const highlightY = [
  { top: 36, bottom: 228 },
  { top: 276, bottom: 473 },
  { top: 514, bottom: 713 },
  { top: 749, bottom: 953 },
  { top: 989, bottom: 1200 },
];

const PINK = '#f2909b';
const BLUE = '#8f8fd4';
const CYAN = '#1cbcc6';
const FONT = "'DejaVu Sans', Verdana, sans-serif";

function Panel({ p, l, idx }: { p: PanelData; l: typeof layout[number]; idx: number }) {
  const x = d3.scaleLinear().domain(p.domain).range([l.left, l.right]);
  const y = d3.scaleLinear().domain([50, 100]).range([l.bottom, l.top]).clamp(true);
  const area = d3.area<Pt>().x(d => x(d[0])).y0(l.bottom).y1(d => y(d[1]));
  const line = d3.line<Pt>().x(d => x(d[0])).y(d => y(d[1]));
  const mid = y(75);
  const areaD = area(p.curve) || '';
  const arrowY = l.top - l.arrowDy;
  const ax0 = x(p.arrow[0]);
  const ax1 = x(p.arrow[1]);
  return (
    <g>
      <defs>
        <clipPath id={`cns-${idx}`}>
          {p.cns.map((s, i) => <rect key={i} x={x(s[0])} y={l.top} width={x(s[1]) - x(s[0])} height={l.bottom - l.top} />)}
        </clipPath>
        <clipPath id={`exon-${idx}`}>
          {p.exonFill.map((s, i) => <rect key={i} x={x(s[0])} y={l.top} width={x(s[1]) - x(s[0])} height={l.bottom - l.top} />)}
        </clipPath>
        <clipPath id={`box-${idx}`}>
          <rect x={l.left} y={l.top - 1} width={l.right - l.left} height={l.bottom - l.top + 2} />
        </clipPath>
      </defs>
      <text x={18} y={mid + 8} fontFamily={FONT} fontWeight="bold" fontStyle="italic" fontSize={23} fill="#000">{p.species}</text>
      <text x={(ax0 + ax1) / 2} y={l.top - l.nameDy} textAnchor="middle" fontFamily={FONT} fontWeight="bold" fontStyle="italic" fontSize={l.nameSize} fill="#000">{p.gene}</text>
      <line x1={ax0} x2={ax1} y1={arrowY} y2={arrowY} stroke="#858585" strokeWidth={2} />
      <path d={`M${ax1 - 5},${arrowY - 3} L${ax1},${arrowY} L${ax1 - 5},${arrowY + 3}`} fill="none" stroke="#858585" strokeWidth={1.5} />
      {p.marks.map((s, i) => <rect key={i} x={x(s[0])} y={l.top - 6} width={x(s[1]) - x(s[0])} height={6} fill={BLUE} />)}
      <path d={areaD} fill={PINK} clipPath={`url(#cns-${idx})`} />
      <path d={areaD} fill={BLUE} clipPath={`url(#exon-${idx})`} />
      <line x1={l.left} x2={l.right} y1={mid} y2={mid} stroke="#555" strokeWidth={1} />
      <path d={line(p.curve) || ''} fill="none" stroke="#1a1a1a" strokeWidth={1} strokeLinejoin="round" clipPath={`url(#box-${idx})`} />
      {p.gaps.map((s, i) => <rect key={i} x={x(s[0])} y={l.bottom - 9} width={x(s[1]) - x(s[0])} height={5} fill={CYAN} stroke="#224" strokeWidth={0.8} />)}
      <rect x={l.left} y={l.top} width={l.right - l.left} height={l.bottom - l.top} fill="none" stroke="#000" strokeWidth={1.5} />
      {p.ticks.map(t => (
        <g key={t}>
          <line x1={x(t)} x2={x(t)} y1={l.bottom} y2={l.bottom - 3} stroke="#000" strokeWidth={1} />
          <text x={x(t)} y={l.bottom + 15} textAnchor="middle" fontFamily={FONT} fontSize={12} fill="#111">{`${t}k`}</text>
        </g>
      ))}
      {pctValues.map((v, i) => {
        const yy = v === 100 ? l.top + 8 : v === 50 ? l.bottom + 1 : mid + 6;
        return <text key={v} x={577} y={yy} fontFamily={FONT} fontSize={16} fill="#111">{pctLabels[i]}</text>;
      })}
    </g>
  );
}

export default function App() {
  return (
    <svg width={635} height={1195} viewBox="0 0 635 1195" style={{ position: 'absolute', left: 0, top: 0, background: '#fff' }}>
      <rect x={0} y={0} width={635} height={1195} fill="#fff" />
      {panels.map((p, i) => <Panel key={i} p={p} l={layout[i]} idx={i} />)}
      {highlights.map((h, i) => {
        const l = layout[h.panel];
        const x = d3.scaleLinear().domain(panels[h.panel].domain).range([l.left, l.right]);
        return <rect key={i} x={x(h.span[0])} y={highlightY[i].top} width={x(h.span[1]) - x(h.span[0])} height={highlightY[i].bottom - highlightY[i].top} fill="none" stroke="#e8322a" strokeWidth={2} />;
      })}
    </svg>
  );
}
